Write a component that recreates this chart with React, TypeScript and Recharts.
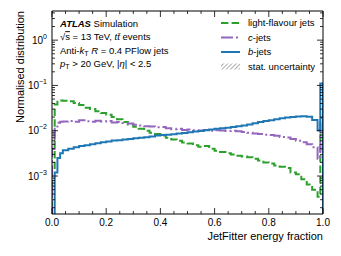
import React from 'react';
import { LineChart, Line, XAxis, YAxis, Legend } from 'recharts';

const FONT = '"Liberation Sans", Arial, Helvetica, sans-serif';

// lower bin edges of the histogram
const binEdges = [
  0, 0.01, 0.02, 0.03,
  0.04, 0.06, 0.08, 0.1, 0.12, 0.14, 0.16, 0.18, 0.2, 0.22,
  0.24, 0.26, 0.28, 0.3, 0.32, 0.34, 0.36, 0.38, 0.4, 0.42,
  0.44, 0.46, 0.48, 0.5, 0.52, 0.54, 0.56, 0.58, 0.6, 0.62,
  0.64, 0.66, 0.68, 0.7, 0.72, 0.74, 0.76, 0.78, 0.8, 0.82,
  0.84, 0.86, 0.88, 0.9, 0.92, 0.94, 0.96,
  0.98, 0.99,
];
const upperEdge = 1.0;

const lightVals = [
  0.0015, 0.038, 0.046, 0.0465,
  0.046, 0.0445, 0.041, 0.037, 0.032, 0.03, 0.027, 0.0245, 0.0225, 0.02,
  0.018, 0.0155, 0.0138, 0.0122, 0.011, 0.01, 0.009, 0.0085, 0.0078, 0.007,
  0.0064, 0.006, 0.0055, 0.0052, 0.0048, 0.0044, 0.0046, 0.004, 0.0036, 0.0034,
  0.0032, 0.003, 0.0028, 0.0027, 0.0026, 0.0024, 0.0022, 0.002, 0.0019, 0.0017,
  0.0016, 0.0015, 0.0012, 0.0011, 0.00085, 0.00065, 0.0005,
  0.00035, 0.015,
];

const cVals = [
  0.004, 0.011, 0.015, 0.0158,
  0.016, 0.0165, 0.0158, 0.017, 0.0162, 0.0158, 0.0166, 0.016, 0.0165, 0.0152,
  0.0155, 0.0148, 0.0145, 0.0135, 0.013, 0.0126, 0.0124, 0.012, 0.0121, 0.0113,
  0.0108, 0.011, 0.0104, 0.0106, 0.0103, 0.0101, 0.0104, 0.01, 0.0103, 0.0101,
  0.0098, 0.01, 0.0097, 0.0094, 0.009, 0.0087, 0.0085, 0.0082, 0.008, 0.0077,
  0.0073, 0.0071, 0.0066, 0.006, 0.0056, 0.005, 0.0043,
  0.0024, 0.019,
];

const bVals = [
  0.00005, 0.0012, 0.0025, 0.0032,
  0.0037, 0.004, 0.0043, 0.0046, 0.0048, 0.005, 0.0053, 0.0056, 0.0058, 0.0061,
  0.0062, 0.0064, 0.0066, 0.0068, 0.007, 0.0072, 0.0075, 0.0078, 0.008, 0.0082,
  0.0084, 0.0087, 0.0089, 0.0092, 0.0096, 0.0099, 0.0102, 0.0106, 0.011, 0.0113,
  0.0117, 0.0121, 0.0125, 0.0131, 0.0138, 0.0146, 0.0155, 0.0163, 0.0171, 0.018,
  0.0188, 0.0195, 0.02, 0.0205, 0.0208, 0.0203, 0.0172,
  0.0103, 0.11,
];

const seriesNames = ['light-flavour jets', 'c-jets', 'b-jets', 'stat. uncertainty'];
const colors = { light: '#2ca02c', c: '#9467bd', b: '#1f77b4' };

const xMajorTicks = [0, 0.2, 0.4, 0.6, 0.8, 1.0];
const xMinorStep = 0.05;
const yMajorTicks = [0.001, 0.01, 0.1, 1];
const yDomain: [number, number] = [1.45e-4, 4.4];

const FLOOR = 1e-7;

const rows: any[] = [{ x: 0, light: FLOOR, c: FLOOR, b: FLOOR }];
binEdges.forEach((e, i) => {
  rows.push({ x: e, light: lightVals[i], c: cVals[i], b: bVals[i] });
});
rows.push({ x: upperEdge, light: FLOOR, c: FLOOR, b: FLOOR });

const xTicks: number[] = [];
for (let i = 0; i <= Math.round(1 / xMinorStep); i++) xTicks.push(+(i * xMinorStep).toFixed(4));

const yTicks: number[] = [];
for (let p = -4; p <= 0; p++) {
  for (let k = 1; k <= 9; k++) {
    const v = +(k * Math.pow(10, p)).toPrecision(3);
    if (v >= yDomain[0] && v <= yDomain[1]) yTicks.push(v);
  }
}

const isMajorX = (v: number) => xMajorTicks.some((t) => Math.abs(t - v) < 1e-6);
const isMajorY = (v: number) => yMajorTicks.some((t) => Math.abs(t - v) / t < 1e-6);

const XTick = (side: 'bottom' | 'top') => (props: any) => {
  const { x, y, payload } = props;
  const v = payload.value as number;
  const major = isMajorX(v);
  const len = major ? 6 : 3;
  const dir = side === 'bottom' ? -1 : 1;
  return (
    <g>
      <line x1={x} y1={y} x2={x} y2={y + dir * len} stroke="#000" strokeWidth={0.8} />
      {side === 'bottom' && major && (
        <text x={x} y={y + 12} textAnchor="middle" fontSize={10} fontFamily={FONT} fill="#000">
          {v.toFixed(1)}
        </text>
      )}
    </g>
  );
};

const YTick = (side: 'left' | 'right') => (props: any) => {
  const { x, y, payload } = props;
  const v = payload.value as number;
  const major = isMajorY(v);
  const len = major ? 6 : 3;
  const dir = side === 'left' ? 1 : -1;
  const exp = Math.round(Math.log10(v));
  return (
    <g>
      <line x1={x} y1={y} x2={x + dir * len} y2={y} stroke="#000" strokeWidth={0.8} />
      {side === 'left' && major && (
        <text x={x - 5} y={y + 3.5} textAnchor="end" fontSize={10} fontFamily={FONT} fill="#000">
          10
          <tspan fontSize={7} dy={-5}>{exp < 0 ? '\u2212' + Math.abs(exp) : String(exp)}</tspan>
        </text>
      )}
    </g>
  );
};

const LegendContent = () => {
  const entries = [
    { key: 'light', y: 11, dash: '7.4 3.2', color: colors.light },
    { key: 'c', y: 25.5, dash: '12 3 2 3', color: colors.c },
    { key: 'b', y: 40, dash: undefined, color: colors.b },
  ];
  const labelFor = (i: number) => {
    const n = seriesNames[i];
    if (i === 1 || i === 2) {
      return (
        <>
          <tspan fontStyle="italic">{n[0]}</tspan>
          {n.slice(1)}
        </>
      );
    }
    return n;
  };
  return (
    <svg width={120} height={64} style={{ overflow: 'visible' }}>
      <defs>
        <pattern id="hatch" patternUnits="userSpaceOnUse" width="3" height="3" patternTransform="rotate(45)">
          <line x1="0" y1="0" x2="0" y2="3" stroke="#777" strokeWidth="1.2" />
        </pattern>
      </defs>
      {entries.map((e, i) => (
        <g key={e.key}>
          <line x1={6} x2={25} y1={e.y} y2={e.y} stroke={e.color} strokeWidth={2} strokeDasharray={e.dash} />
          <text x={33} y={e.y + 3.4} fontSize={9.5} fontFamily={FONT} fill="#000">
            {labelFor(i)}
          </text>
        </g>
      ))}
      <rect x={6} y={51.5} width={19} height={6} fill="url(#hatch)" />
      <text x={33} y={57.9} fontSize={9.5} fontFamily={FONT} fill="#000">
        {seriesNames[3]}
      </text>
    </svg>
  );
};

export default function App() {
  const W = 341;
  const H = 256;
  return (
    <div style={{ position: 'absolute', left: 0, top: 0, width: W, height: H, background: '#fff' }}>
      <LineChart
        width={W}
        height={H}
        data={rows}
        margin={{ top: 10, right: 17, bottom: 41, left: 51 }}
      >
        <XAxis
          dataKey="x"
          type="number"
          domain={[0, 1]}
          ticks={xTicks}
          interval={0}
          height={1}
          tickSize={0}
          tickMargin={0}
          tickLine={false}
          axisLine={{ stroke: '#000', strokeWidth: 1 }}
          tick={XTick('bottom')}
          allowDataOverflow
        />
        <XAxis
          xAxisId="top"
          orientation="top"
          dataKey="x"
          type="number"
          domain={[0, 1]}
          ticks={xTicks}
          interval={0}
          height={1}
          tickSize={0}
          tickMargin={0}
          tickLine={false}
          axisLine={{ stroke: '#000', strokeWidth: 1 }}
          tick={XTick('top')}
          allowDataOverflow
        />
        <YAxis
          scale="log"
          type="number"
          domain={yDomain}
          ticks={yTicks}
          interval={0}
          width={1}
          tickSize={0}
          tickMargin={0}
          tickLine={false}
          axisLine={{ stroke: '#000', strokeWidth: 1 }}
          tick={YTick('left')}
          allowDataOverflow
        />
        <YAxis
          yAxisId="right"
          orientation="right"
          scale="log"
          type="number"
          domain={yDomain}
          ticks={yTicks}
          interval={0}
          width={1}
          tickSize={0}
          tickMargin={0}
          tickLine={false}
          axisLine={{ stroke: '#000', strokeWidth: 1 }}
          tick={YTick('right')}
          allowDataOverflow
        />
        <Legend
          layout="vertical"
          align="center"
          verticalAlign="middle"
          content={() => <LegendContent />}
          wrapperStyle={{ left: 215, top: 12, width: 120, height: 64 }}
        />
        <Line
          type="stepAfter"
          dataKey="light"
          name={seriesNames[0]}
          stroke={colors.light}
          strokeWidth={2}
          strokeDasharray="7.4 3.2"
          dot={false}
          activeDot={false}
          isAnimationActive={false}
        />
        <Line
          type="stepAfter"
          dataKey="c"
          name={seriesNames[1]}
          stroke={colors.c}
          strokeWidth={2}
          strokeDasharray="12 3 2 3"
          dot={false}
          activeDot={false}
          isAnimationActive={false}
        />
        <Line
          type="stepAfter"
          dataKey="b"
          name={seriesNames[2]}
          stroke={colors.b}
          strokeWidth={2}
          dot={false}
          activeDot={false}
          isAnimationActive={false}
        />
      </LineChart>
      <svg
        width={W}
        height={H}
        style={{ position: 'absolute', left: 0, top: 0, pointerEvents: 'none' }}
      >
        <g fontFamily={FONT} fontSize={9.5} fill="#000">
          <text x={60} y={26.8}>
            <tspan fontWeight="bold" fontStyle="italic">ATLAS</tspan> Simulation
          </text>
          <text x={60} y={40.2}>
            √<tspan textDecoration="overline">s</tspan> = 13 TeV, <tspan fontStyle="italic">t</tspan>
            <tspan fontStyle="italic">t̄</tspan> events
          </text>
          <text x={60} y={53.6}>
            Anti-<tspan fontStyle="italic">k</tspan>
            <tspan fontSize={7} dy={2}>T</tspan>
            <tspan dy={-2}> </tspan>
            <tspan fontStyle="italic">R</tspan> = 0.4 PFlow jets
          </text>
          <text x={60} y={67}>
            <tspan fontStyle="italic">p</tspan>
            <tspan fontSize={7} dy={2}>T</tspan>
            <tspan dy={-2}> &gt; 20 GeV, |</tspan>
            <tspan fontStyle="italic">η</tspan>| &lt; 2.5
          </text>
        </g>
        <text
          transform="translate(23.5, 11) rotate(-90)"
          textAnchor="end"
          fontFamily={FONT}
          fontSize={11}
          fill="#000"
        >
          Normalised distribution
        </text>
        <text x={323} y={239.5} textAnchor="end" fontFamily={FONT} fontSize={11} fill="#000">
          JetFitter energy fraction
        </text>
      </svg>
    </div>
  );
}
